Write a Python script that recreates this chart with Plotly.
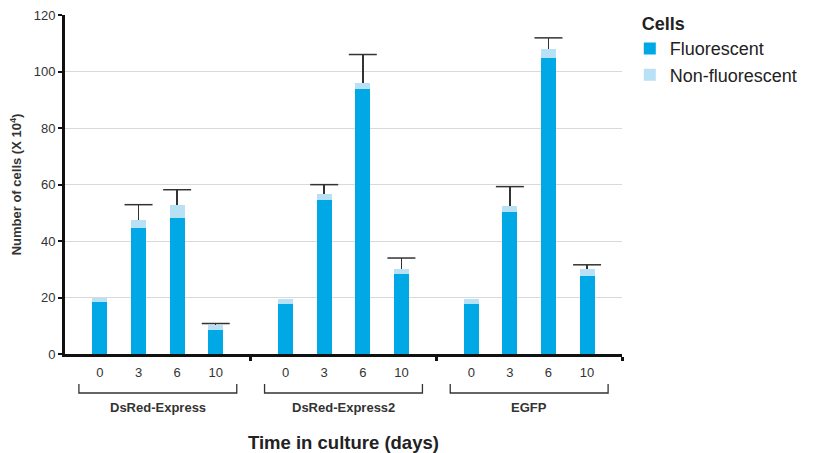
import plotly.graph_objects as go

groups = ["DsRed-Express", "DsRed-Express2", "EGFP"]
days = ["0", "3", "6", "10"]
fluorescent = [18.5, 44.5, 48.1, 8.6, 17.8, 54.7, 93.9, 28.3, 17.8, 50.3, 104.9, 27.6]
non_fluorescent = [1.5, 2.8, 4.6, 1.5, 1.7, 2.1, 2.1, 1.7, 1.7, 2.0, 3.2, 2.4]
error_plus = [None, 5.6, 5.5, 0.7, None, 3.2, 10.1, 4.0, None, 7.0, 3.9, 1.6]
y_ticks = [0, 20, 40, 60, 80, 100, 120]

FL = "#00a9e6"
NF = "#b9e1f6"
ERR = "#333333"
FONT = "Liberation Sans, Arial, sans-serif"

GW = 4.81      # group width in bar slots
OFF = 0.905    # first bar offset inside group
xs = [g * GW + OFF + i for g in range(len(groups)) for i in range(len(days))]
tick_text = days * len(groups)
totals = [f + n for f, n in zip(fluorescent, non_fluorescent)]
err_top = [t + e if e is not None else None for t, e in zip(totals, error_plus)]

fig = go.Figure()
fig.add_trace(go.Bar(x=xs, y=fluorescent, name="Fluorescent", marker_color=FL,
                     marker_line_width=0, width=0.39))
fig.add_trace(go.Bar(x=xs, y=non_fluorescent, name="Non-fluorescent", marker_color=NF,
                     marker_line_width=0, width=0.39,
                     error_y=dict(type="data", symmetric=False,
                                  array=[e if e is not None else float("nan") for e in error_plus],
                                  arrayminus=[0] * len(error_plus),
                                  color=ERR, thickness=1.5, width=0)))
# error-bar caps (upper only)
fig.add_trace(go.Scatter(x=xs, y=err_top, mode="markers", showlegend=False, hoverinfo="skip",
                         marker=dict(symbol="line-ew", size=20,
                                     line=dict(color=ERR, width=1.5))))

shapes = []
annotations = []
for g, name in enumerate(groups):
    x0 = g * GW + 0.36
    x1 = g * GW + 4.45
    shapes.append(dict(type="path", xref="x", yref="paper",
                       path=f"M{x0},-0.0884 L{x0},-0.115 L{x1},-0.115 L{x1},-0.0884",
                       line=dict(color="#333333", width=1.3)))
    annotations.append(dict(x=g * GW + GW / 2, y=-0.158, xref="x", yref="paper",
                            text=f"<b>{name}</b>", showarrow=False, yanchor="middle",
                            font=dict(size=13, color="#333333", family=FONT)))
annotations.append(dict(x=0.5, y=-0.261, xref="paper", yref="paper",
                        text="<b>Time in culture (days)</b>", showarrow=False, yanchor="middle",
                        font=dict(size=18.5, color="#222222", family=FONT)))

fig.update_layout(
    width=806, height=445,
    margin=dict(l=57, r=192, t=7, b=99, autoexpand=False),
    barmode="stack",
    plot_bgcolor="white", paper_bgcolor="white",
    font=dict(family=FONT, color="#333333"),
    shapes=shapes, annotations=annotations,
    legend=dict(x=1.014, y=1.024, xanchor="left", yanchor="top",
                title=dict(text="\u00a0\u00a0<b>Cells</b>", font=dict(size=18, color="#222222")),
                font=dict(size=18, color="#222222"), traceorder="normal",
                bgcolor="rgba(0,0,0,0)"),
    xaxis=dict(range=[0, GW * len(groups)], tickmode="array", tickvals=xs, ticktext=tick_text,
               ticks="", showgrid=False, zeroline=False, automargin=False,
               showline=True, linecolor="#111111", linewidth=3,
               tickfont=dict(size=13, color="#333333"), ticklabelstandoff=4,
               minor=dict(tickmode="array", tickvals=[GW, 2 * GW, 3 * GW], ticks="outside",
                          ticklen=4, tickwidth=3, tickcolor="#111111", showgrid=False)),
    yaxis=dict(range=[0, 120.1], tickmode="array", tickvals=y_ticks, automargin=False,
               ticklabeloverflow="allow",
               ticks="outside", ticklen=4, tickwidth=2, tickcolor="#111111",
               showline=True, linecolor="#111111", linewidth=3,
               showgrid=True, gridcolor="#d9d9d9", gridwidth=1, zeroline=False,
               tickfont=dict(size=13, color="#333333"),
               title=dict(text="<b>Number of cells (X 10<sup>4</sup>)</b>",
                          font=dict(size=13, color="#333333"), standoff=10)),
)

fig.write_html("out.html")
